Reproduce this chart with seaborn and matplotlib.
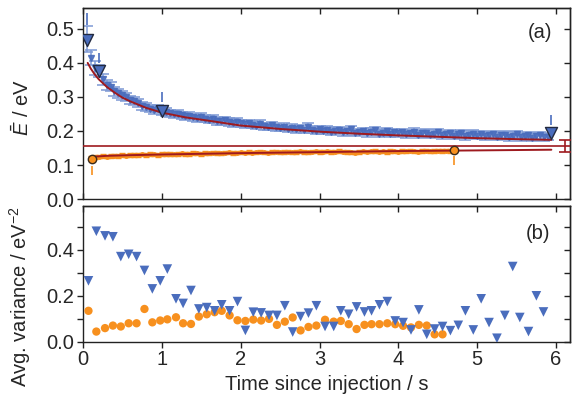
import numpy as np
import pandas as pd
import seaborn as sns
import matplotlib
matplotlib.use("Agg")
import matplotlib.pyplot as plt

# ---- panel (a): mean energy vs time ----
blue_t = [0.05, 0.10, 0.15, 0.20, 0.25, 0.30, 0.35, 0.40, 0.45, 0.50, 0.55, 0.60, 0.65, 0.70, 0.75, 0.80, 0.85, 0.90, 0.95, 1.00,
          1.05, 1.10, 1.15, 1.20, 1.25, 1.30, 1.35, 1.40, 1.45, 1.50, 1.55, 1.60, 1.65, 1.70, 1.75, 1.80, 1.85, 1.90, 1.95, 2.00,
          2.05, 2.10, 2.15, 2.20, 2.25, 2.30, 2.35, 2.40, 2.45, 2.50, 2.55, 2.60, 2.65, 2.70, 2.75, 2.80, 2.85, 2.90, 2.95, 3.00,
          3.05, 3.10, 3.15, 3.20, 3.25, 3.30, 3.35, 3.40, 3.45, 3.50, 3.55, 3.60, 3.65, 3.70, 3.75, 3.80, 3.85, 3.90, 3.95, 4.00,
          4.05, 4.10, 4.15, 4.20, 4.25, 4.30, 4.35, 4.40, 4.45, 4.50, 4.55, 4.60, 4.65, 4.70, 4.75, 4.80, 4.85, 4.90, 4.95, 5.00,
          5.05, 5.10, 5.15, 5.20, 5.25, 5.30, 5.35, 5.40, 5.45, 5.50, 5.55, 5.60, 5.65, 5.70, 5.75, 5.80, 5.85, 5.90]
blue_E = [0.470, 0.415, 0.385, 0.376, 0.352, 0.336, 0.330, 0.316, 0.311, 0.305, 0.300, 0.291, 0.287, 0.281, 0.273, 0.270, 0.266, 0.262, 0.266, 0.259,
          0.256, 0.252, 0.249, 0.251, 0.246, 0.243, 0.245, 0.240, 0.237, 0.241, 0.236, 0.233, 0.235, 0.230, 0.228, 0.231, 0.226, 0.224, 0.227, 0.222,
          0.220, 0.223, 0.218, 0.216, 0.221, 0.214, 0.212, 0.217, 0.211, 0.209, 0.213, 0.206, 0.210, 0.205, 0.208, 0.203, 0.212, 0.204, 0.201, 0.206,
          0.200, 0.204, 0.198, 0.201, 0.203, 0.196, 0.199, 0.205, 0.194, 0.197, 0.200, 0.193, 0.198, 0.202, 0.192, 0.195, 0.199, 0.191, 0.196, 0.193,
          0.197, 0.190, 0.194, 0.198, 0.189, 0.193, 0.195, 0.188, 0.192, 0.196, 0.187, 0.191, 0.194, 0.186, 0.190, 0.193, 0.185, 0.189, 0.192, 0.186,
          0.190, 0.184, 0.188, 0.191, 0.183, 0.187, 0.189, 0.182, 0.186, 0.190, 0.181, 0.185, 0.188, 0.180, 0.184, 0.187, 0.181, 0.183]
blue_err = [0.037, 0.022, 0.020, 0.018, 0.016, 0.015, 0.014, 0.014, 0.013, 0.013, 0.013, 0.012, 0.012, 0.012, 0.012, 0.012, 0.011, 0.011, 0.011, 0.011,
            0.011, 0.011, 0.011, 0.011, 0.011, 0.011, 0.011, 0.011, 0.011, 0.011, 0.011, 0.011, 0.011, 0.011, 0.011, 0.011, 0.011, 0.011, 0.011, 0.011,
            0.010, 0.010, 0.010, 0.010, 0.010, 0.010, 0.010, 0.010, 0.010, 0.010, 0.010, 0.010, 0.010, 0.010, 0.010, 0.010, 0.010, 0.010, 0.010, 0.010,
            0.010, 0.010, 0.010, 0.010, 0.010, 0.010, 0.010, 0.010, 0.010, 0.010, 0.010, 0.010, 0.010, 0.010, 0.010, 0.010, 0.010, 0.010, 0.010, 0.010,
            0.010, 0.010, 0.010, 0.010, 0.010, 0.010, 0.010, 0.010, 0.010, 0.010, 0.010, 0.010, 0.010, 0.010, 0.010, 0.010, 0.010, 0.010, 0.010, 0.010,
            0.010, 0.010, 0.010, 0.010, 0.010, 0.010, 0.010, 0.010, 0.010, 0.010, 0.010, 0.010, 0.010, 0.010, 0.010, 0.010, 0.010, 0.010]

orange_t = [0.10, 0.15, 0.20, 0.25, 0.30, 0.35, 0.40, 0.45, 0.50, 0.55, 0.60, 0.65, 0.70, 0.75, 0.80, 0.85, 0.90, 0.95, 1.00, 1.05,
            1.10, 1.15, 1.20, 1.25, 1.30, 1.35, 1.40, 1.45, 1.50, 1.55, 1.60, 1.65, 1.70, 1.75, 1.80, 1.85, 1.90, 1.95, 2.00, 2.05,
            2.10, 2.15, 2.20, 2.25, 2.30, 2.35, 2.40, 2.45, 2.50, 2.55, 2.60, 2.65, 2.70, 2.75, 2.80, 2.85, 2.90, 2.95, 3.00, 3.05,
            3.10, 3.15, 3.20, 3.25, 3.30, 3.35, 3.40, 3.45, 3.50, 3.55, 3.60, 3.65, 3.70, 3.75, 3.80, 3.85, 3.90, 3.95, 4.00, 4.05,
            4.10, 4.15, 4.20, 4.25, 4.30, 4.35, 4.40, 4.45, 4.50, 4.55, 4.60, 4.65, 4.70]
orange_E = [0.122, 0.124, 0.125, 0.126, 0.125, 0.127, 0.128, 0.127, 0.129, 0.128, 0.129, 0.130, 0.129, 0.131, 0.130, 0.132, 0.131, 0.130, 0.132, 0.133,
            0.132, 0.131, 0.133, 0.134, 0.132, 0.133, 0.135, 0.134, 0.133, 0.135, 0.134, 0.136, 0.135, 0.134, 0.136, 0.137, 0.135, 0.136, 0.137, 0.136,
            0.138, 0.136, 0.137, 0.139, 0.137, 0.136, 0.138, 0.139, 0.137, 0.138, 0.139, 0.137, 0.138, 0.140, 0.138, 0.137, 0.139, 0.140, 0.138, 0.139,
            0.140, 0.138, 0.139, 0.141, 0.139, 0.138, 0.137, 0.136, 0.138, 0.140, 0.139, 0.140, 0.141, 0.139, 0.140, 0.138, 0.141, 0.140, 0.139, 0.141,
            0.140, 0.142, 0.140, 0.139, 0.141, 0.142, 0.140, 0.141, 0.142, 0.141, 0.142, 0.141, 0.143]
orange_err = 0.005

# fitted curves
fit_blue_t = [0.06, 0.10, 0.15, 0.20, 0.30, 0.40, 0.50, 0.60, 0.80, 1.00, 1.30, 1.60, 2.00, 2.50, 3.00, 3.50, 4.00, 4.50, 5.00, 5.50, 5.94]
fit_blue_E = [0.400, 0.383, 0.366, 0.352, 0.330, 0.313, 0.298, 0.287, 0.268, 0.254, 0.240, 0.230, 0.216, 0.206, 0.198, 0.192, 0.187, 0.183, 0.179, 0.176, 0.174]
fit_orange_t = [0.10, 0.30, 0.60, 1.00, 1.50, 2.00, 3.00, 4.00, 5.00, 5.94]
fit_orange_E = [0.124, 0.127, 0.129, 0.131, 0.133, 0.135, 0.138, 0.141, 0.143, 0.145]
limit_E = 0.156
limit_err = 0.0185
limit_t = 6.11

# highlighted points and their tick marks
mark_blue_t = [0.05, 0.20, 1.00, 5.94]
mark_blue_E = [0.467, 0.376, 0.259, 0.195]
mark_blue_lo = [0.510, 0.400, 0.285, 0.218]
mark_blue_hi = [0.545, 0.430, 0.315, 0.247]
mark_orange_t = [0.11, 4.70]
mark_orange_E = [0.117, 0.144]
mark_orange_lo = [0.070, 0.100]
mark_orange_hi = [0.097, 0.126]

# ---- panel (b): average variance ----
var_blue_t = [0.07, 0.17, 0.28, 0.38, 0.48, 0.58, 0.68, 0.78, 0.88, 0.98, 1.07, 1.18, 1.27, 1.37, 1.47, 1.57, 1.67, 1.76, 1.86, 1.96,
              2.06, 2.16, 2.26, 2.36, 2.46, 2.56, 2.66, 2.76, 2.86, 2.96, 3.07, 3.18, 3.27, 3.37, 3.47, 3.57, 3.66, 3.76, 3.86, 3.96,
              4.06, 4.16, 4.26, 4.36, 4.46, 4.56, 4.66, 4.76, 4.85, 4.95, 5.05, 5.15, 5.25, 5.35, 5.45, 5.54, 5.65, 5.75, 5.84]
var_blue = [0.265, 0.480, 0.460, 0.456, 0.370, 0.380, 0.370, 0.310, 0.230, 0.265, 0.316, 0.187, 0.167, 0.223, 0.143, 0.149, 0.135, 0.161, 0.135, 0.175,
            0.050, 0.129, 0.126, 0.115, 0.115, 0.157, 0.043, 0.110, 0.125, 0.157, 0.067, 0.067, 0.135, 0.120, 0.152, 0.130, 0.135, 0.161, 0.175, 0.091,
            0.084, 0.052, 0.139, 0.033, 0.056, 0.067, 0.049, 0.072, 0.135, 0.052, 0.187, 0.084, 0.016, 0.115, 0.327, 0.106, 0.045, 0.200, 0.130]
var_orange_t = [0.07, 0.17, 0.28, 0.38, 0.48, 0.58, 0.68, 0.78, 0.88, 0.98, 1.07, 1.18, 1.27, 1.37, 1.47, 1.57, 1.67, 1.76, 1.86, 1.96,
                2.06, 2.16, 2.26, 2.36, 2.46, 2.56, 2.66, 2.76, 2.86, 2.96, 3.07, 3.18, 3.27, 3.37, 3.47, 3.57, 3.66, 3.76, 3.86, 3.96,
                4.06, 4.16, 4.26, 4.36, 4.46, 4.56]
var_orange = [0.135, 0.045, 0.060, 0.071, 0.067, 0.081, 0.081, 0.143, 0.085, 0.093, 0.098, 0.107, 0.081, 0.078, 0.110, 0.120, 0.129, 0.135, 0.115, 0.094,
              0.091, 0.097, 0.093, 0.100, 0.074, 0.088, 0.106, 0.050, 0.065, 0.071, 0.096, 0.088, 0.091, 0.077, 0.056, 0.074, 0.077, 0.077, 0.081, 0.077,
              0.070, 0.063, 0.074, 0.071, 0.033, 0.033]

blue = "#4a6dbd"
blue_light = "#7b97d4"
orange = "#f7901e"
red = "#9e1a1f"

sns.set_style("ticks")
plt.rcParams["font.family"] = ["Liberation Sans", "DejaVu Sans"]
plt.rcParams["mathtext.fontset"] = "custom"
plt.rcParams["mathtext.it"] = "Liberation Sans:italic"
plt.rcParams["mathtext.rm"] = "Liberation Sans"
plt.rcParams["axes.linewidth"] = 1.0

fig = plt.figure(figsize=(5.72, 3.99), dpi=100)
ax1 = fig.add_axes([0.145, 0.501, 0.852, 0.478])
ax2 = fig.add_axes([0.145, 0.143, 0.852, 0.341])

fs = 14.5

# panel (a)
ax1.errorbar(blue_t, blue_E, yerr=blue_err, fmt="v", ms=4, color=blue, ecolor=blue_light,
             elinewidth=1.2, capsize=4, capthick=1.2, alpha=0.9, zorder=2)
ax1.errorbar(orange_t, orange_E, yerr=orange_err, fmt="o", ms=2.5, color=orange, ecolor=orange,
             elinewidth=1.0, capsize=2, capthick=1.0, zorder=2)
ax1.axhline(limit_E, color=red, lw=1.2, zorder=3)
ax1.errorbar([limit_t], [limit_E], yerr=limit_err, fmt="none", ecolor=red, elinewidth=1.2,
             capsize=4, capthick=1.2, zorder=3)
fits = pd.DataFrame({"t": fit_blue_t + fit_orange_t, "E": fit_blue_E + fit_orange_E,
                     "fit": ["blue"] * len(fit_blue_t) + ["orange"] * len(fit_orange_t)})
sns.lineplot(data=fits, x="t", y="E", units="fit", estimator=None, color=red, lw=1.4,
             legend=False, sort=False, ax=ax1, zorder=4)
ax1.scatter(mark_blue_t, mark_blue_E, marker="v", s=75, color=blue, edgecolor="#222a40", lw=1.0, zorder=5)
ax1.vlines(mark_blue_t, mark_blue_lo, mark_blue_hi, color=blue, lw=1.2, zorder=5)
ax1.scatter(mark_orange_t, mark_orange_E, marker="o", s=36, color=orange, edgecolor="#3a2a1a", lw=1.0, zorder=5)
ax1.vlines(mark_orange_t, mark_orange_lo, mark_orange_hi, color=orange, lw=1.2, zorder=5)

ax1.set_xlim(0, 6.18)
ax1.set_ylim(0, 0.56)
ax1.set_yticks([0.0, 0.1, 0.2, 0.3, 0.4, 0.5])
ax1.set_xticks([0, 1, 2, 3, 4, 5, 6])
ax1.set_xlabel("")
ax1.set_ylabel(r"$\bar{E}$ / eV", fontsize=fs)
ax1.text(0.938, 0.876, "(a)", transform=ax1.transAxes, ha="center", va="center", fontsize=fs)

# panel (b)
sns.scatterplot(x=var_orange_t, y=var_orange, marker="o", s=36, color=orange, edgecolor="none", ax=ax2, zorder=3)
sns.scatterplot(x=var_blue_t, y=var_blue, marker="v", s=48, color=blue, edgecolor="none", ax=ax2, zorder=4)
ax2.set_xlim(0, 6.18)
ax2.set_ylim(0, 0.59)
ax2.set_xticks([0, 1, 2, 3, 4, 5, 6])
ax2.set_yticks([0.0, 0.1, 0.2, 0.3, 0.4, 0.5])
ax2.set_yticklabels(["0.0", "", "0.2", "", "0.4", ""])
ax2.set_xlabel("Time since injection / s", fontsize=fs)
ax2.set_ylabel(r"Avg. variance / eV$^{-2}$", fontsize=fs)
ax2.text(0.934, 0.80, "(b)", transform=ax2.transAxes, ha="center", va="center", fontsize=fs)

for ax in (ax1, ax2):
    for sp in ax.spines.values():
        sp.set_visible(True)
        sp.set_color("#222222")
    ax.tick_params(axis="y", which="both", left=True, right=False, direction="out",
                   length=4, width=1.0, labelsize=fs, color="#222222", pad=2)
    ax.tick_params(axis="x", which="both", labelsize=fs, length=4, width=1.0, color="#222222", pad=2)
    sec = ax.secondary_yaxis("right")
    sec.set_yticks(ax.get_yticks())
    sec.tick_params(direction="in", length=4, width=1.0, labelright=False, color="#222222")
    secx = ax.secondary_xaxis("top")
    secx.set_xticks([0, 1, 2, 3, 4, 5, 6])
    secx.tick_params(direction="in", length=4, width=1.0, labeltop=False, color="#222222")

ax1.yaxis.set_label_coords(-0.103, 0.477)
ax2.yaxis.set_label_coords(-0.103, 0.33)
ax1.tick_params(axis="x", direction="in", labelbottom=False)
ax2.tick_params(axis="x", direction="out")

fig.savefig("out.png", dpi=100)
